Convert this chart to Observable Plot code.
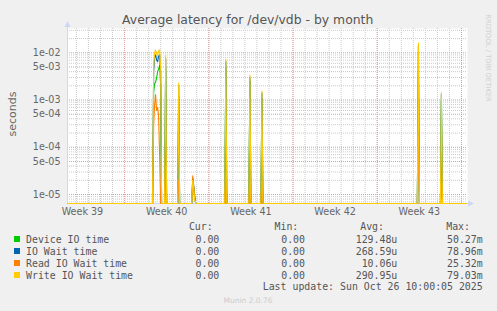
<!DOCTYPE html>
<html><head><meta charset="utf-8">
<script src="https://cdn.jsdelivr.net/npm/d3@7"></script>
<script src="https://cdn.jsdelivr.net/npm/@observablehq/plot@0.6"></script>
<style>
body{margin:0;background:#F0F0F0;}
#wrap{position:relative;width:497px;height:311px;background:#F0F0F0;overflow:hidden;font-family:"DejaVu Sans";color:#666;}
#wrap svg{position:absolute;left:0;top:0;}
.abs{position:absolute;white-space:pre;}
.mono{font-family:"DejaVu Sans Mono";font-size:9.9px;line-height:12px;color:#555;}
</style></head><body><div id="wrap"></div>
<script>
// ---- data (x = days since Mon 22 Sep 2025, 2-hour averages) ----
const days    = [2.26, 9.33, 9.42, 9.50, 9.58, 9.67, 9.75, 9.83, 9.92, 10.00, 10.08, 10.33, 10.42, 10.50, 11.42, 11.50, 11.58, 12.58, 12.67, 12.75, 12.83, 12.92, 15.33, 15.42, 15.50, 17.33, 17.42, 17.50, 18.33, 18.42, 18.50, 31.33, 31.42, 31.50, 33.25, 33.33, 33.42, 35.5];
const deviceIO = [0, 0, 1.5e-3, 2.2e-3, 2.4e-3, 3.0e-3, 4.0e-3, 4.5e-3, 5.5e-3, 2.0e-3, 0, 0, 5.0e-3, 0, 0, 1.2e-3, 0, 0, 1.8e-5, 1.4e-5, 9e-6, 0, 0, 5.0e-3, 0, 0, 2.5e-3, 0, 0, 1.1e-3, 0, 0, 4.5e-3, 0, 0, 1.0e-3, 0, 0];
const ioWait   = [0, 0, 4.0e-3, 8.0e-3, 9.0e-3, 7.0e-3, 6.5e-3, 8.5e-3, 9.0e-3, 4.0e-3, 0, 0, 7.5e-3, 0, 0, 2.0e-3, 0, 0, 2.2e-5, 1.5e-5, 9e-6, 0, 0, 6.5e-3, 0, 0, 3.0e-3, 0, 0, 1.4e-3, 0, 0, 1.4e-2, 0, 0, 1.3e-3, 0, 0];
const readWait = [0, 0, 3.0e-4, 8.0e-4, 1.3e-3, 6.0e-4, 7.0e-4, 4.5e-4, 6.0e-5, 0, 0, 0, 4.0e-5, 0, 0, 2.0e-5, 0, 0, 2.5e-5, 1.5e-5, 8e-6, 0, 0, 3.0e-5, 0, 0, 2.0e-5, 0, 0, 2.0e-5, 0, 0, 1.8e-4, 0, 0, 1.5e-5, 0, 0];
const writeWait= [0, 0, 5.0e-3, 1.0e-2, 1.15e-2, 9.5e-3, 8.5e-3, 1.1e-2, 1.15e-2, 5.0e-3, 0, 0, 8.8e-3, 0, 0, 2.3e-3, 0, 0, 2.0e-5, 1.3e-5, 8e-6, 0, 0, 7.3e-3, 0, 0, 3.4e-3, 0, 0, 1.55e-3, 0, 0, 1.6e-2, 0, 0, 1.43e-3, 0, 0];

const seriesNames  = ["Device IO time", "IO Wait time", "Read IO Wait time", "Write IO Wait time"];
const seriesColors = ["#00CC00", "#0066B3", "#FF8000", "#FFCC00"];
const seriesValues = [deviceIO, ioWait, readWait, writeWait];
const curVals = ["0.00", "0.00", "0.00", "0.00"];
const minVals = ["0.00", "0.00", "0.00", "0.00"];
const avgVals = ["129.48u", "268.59u", "10.06u", "290.95u"];
const maxVals = ["50.27m", "78.96m", "25.32m", "79.03m"];

const weekStarts = [7, 14, 21, 28, 35];
const weekCenters = [3.5, 10.5, 17.5, 24.5, 31.5];
const weekLabels = ["Week 39", "Week 40", "Week 41", "Week 42", "Week 43"];
const yTickValues = [1e-2, 5e-3, 1e-3, 5e-4, 1e-4, 5e-5, 1e-5];
const yTickLabels = ["1e-02", "5e-03", "1e-03", "5e-04", "1e-04", "5e-05", "1e-05"];

const xDomain = [2.26, 35.5];
const yMin = 6.45e-6, yMax = 3.27e-2;

// minor grid
const minorX = d3.range(3, 36).filter(d => d >= xDomain[0] && d <= xDomain[1]);
const minorY = [];
for (let k = -6; k <= -2; k++) for (const m of [2, 3, 4, 6, 7, 8, 9]) {
  const v = m * Math.pow(10, k);
  if (v > yMin && v < yMax) minorY.push(v);
}

const lineMarks = seriesValues.map((vals, s) =>
  Plot.line(days.map((d, i) => ({d, v: vals[i]})), {
    x: "d", y: r => Math.max(r.v, yMin), stroke: seriesColors[s], strokeWidth: 1.1
  })
);

const grid = {strokeDasharray: "1,1", strokeWidth: 1};
const chart = Plot.plot({
  width: 497, height: 222,
  marginLeft: 67, marginRight: 30, marginTop: 28, marginBottom: 19,
  style: {background: "transparent", fontFamily: "DejaVu Sans", fontSize: "9.6px", color: "#666", overflow: "visible"},
  x: {domain: xDomain, ticks: weekCenters, tickFormat: d => weekLabels[weekCenters.indexOf(d)], tickSize: 0, tickPadding: 5, label: null},
  y: {type: "log", domain: [yMin, yMax], axis: null},
  marks: [
    Plot.frame({fill: "white", stroke: null}),
    Plot.ruleX(minorX, {stroke: "#cacaca", ...grid}),
    Plot.ruleY(minorY, {stroke: "#cacaca", ...grid}),
    Plot.ruleX(weekStarts, {stroke: "#e39a9a", ...grid}),
    Plot.ruleY(yTickValues, {stroke: "#e39a9a", ...grid}),
    Plot.ruleX([xDomain[0]], {stroke: "#CFD6F8"}),
    Plot.ruleY([yMin], {stroke: "#CFD6F8"}),
    Plot.text(yTickValues, {y: d => d, text: (d, i) => yTickLabels[i], frameAnchor: "left", textAnchor: "end", dx: -7, fill: "#666", fontSize: 9.6}),
    ...lineMarks
  ]
});

// axis arrows (rrdtool style)
const xs = chart.scale("x"), ys = chart.scale("y");
const L = xs.apply(xDomain[0]), R = xs.apply(xDomain[1]);
const B = ys.apply(yMin), T = ys.apply(yMax);
const svg = d3.select(chart);
svg.append("line").attr("x1", L + 0.5).attr("x2", L + 0.5).attr("y1", T).attr("y2", T - 4).attr("stroke", "#CFD6F8");
svg.append("path").attr("d", `M${L - 2.5},${T - 1} L${L + 3.5},${T - 1} L${L + 0.5},${T - 7} Z`).attr("fill", "#CFD6F8");
svg.append("line").attr("x1", R).attr("x2", R + 3).attr("y1", B + 0.5).attr("y2", B + 0.5).attr("stroke", "#CFD6F8");
svg.append("path").attr("d", `M${R + 1},${B - 2.5} L${R + 1},${B + 3.5} L${R + 7},${B + 0.5} Z`).attr("fill", "#CFD6F8");

const wrap = document.getElementById("wrap");
wrap.appendChild(chart);

function addDiv(text, css, cls = "abs") {
  const el = document.createElement("div");
  el.className = cls;
  el.textContent = text;
  Object.assign(el.style, css);
  wrap.appendChild(el);
  return el;
}

// title, axis label, watermark
addDiv("Average latency for /dev/vdb - by month", {left: "247.7px", top: "13.7px", transform: "translateX(-50%)", fontSize: "12.4px", lineHeight: "12.4px", color: "#555"});
addDiv("seconds", {left: "12px", top: "114px", transform: "translate(-50%,-50%) rotate(-90deg)", fontSize: "11px", lineHeight: "11px", color: "#666"});
addDiv("RRDTOOL / TOBI OETIKER", {left: "487.5px", top: "58.3px", transform: "translate(-50%,-50%) rotate(90deg)", fontSize: "6.8px", lineHeight: "6.8px", color: "#cfcfcf"});
addDiv("Munin 2.0.76", {left: "248px", top: "297px", transform: "translateX(-50%)", fontSize: "7.5px", lineHeight: "7.5px", color: "#cccccc"});

// legend
const rowCenter = [239.3, 251.3, 263.3, 275.3];
const headRight = [284.3, 198.7, 113, 27];
["Cur:", "Min:", "Avg:", "Max:"].forEach((h, j) => addDiv(h, {right: headRight[j] + "px", top: (227 - 5.8) + "px", textAlign: "right"}, "abs mono"));
const colRight = [277.7, 192, 99.7, 14.3];
seriesNames.forEach((name, i) => {
  const top = rowCenter[i] - 5.8;
  const sq = document.createElement("div");
  Object.assign(sq.style, {position: "absolute", left: "14px", top: (rowCenter[i] - 3) + "px", width: "6px", height: "6px", background: seriesColors[i]});
  wrap.appendChild(sq);
  addDiv(name, {left: "26px", top: top + "px"}, "abs mono");
  [curVals, minVals, avgVals, maxVals].forEach((col, j) =>
    addDiv(col[i], {right: colRight[j] + "px", top: top + "px", textAlign: "right"}, "abs mono"));
});
addDiv("Last update: Sun Oct 26 10:00:05 2025", {right: "14.3px", top: (287 - 5.8) + "px", textAlign: "right"}, "abs mono");
</script></body></html>
